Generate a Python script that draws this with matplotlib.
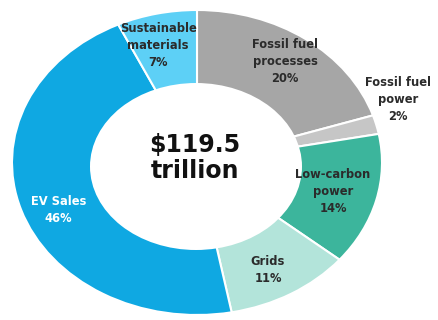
import matplotlib
matplotlib.use("Agg")
import matplotlib.pyplot as plt
from matplotlib.patches import Ellipse

# Fatias do gráfico (sentido horário a partir do topo)
labels = ["Fossil fuel\nprocesses", "Fossil fuel\npower", "Low-carbon\npower",
          "Grids", "EV Sales", "Sustainable\nmaterials"]
shares = [20, 2, 14, 11, 46, 7]
colors = ["#a6a6a6", "#c6c6c6", "#3cb59c", "#b3e4da", "#0fa8e2", "#5dd0f6"]
text_colors = ["#2b2b2b", "#2b2b2b", "#2b2b2b", "#2b2b2b", "white", "#2b2b2b"]
total_label = "$119.5\ntrillion"

# posições dos rótulos (coordenadas do eixo, raio = 1)
label_pos = [(0.476, 0.66), (1.086, 0.41), (0.735, -0.19),
             (0.384, -0.705), (-0.75, -0.31), (-0.21, 0.77)]

# escala em pixels (centro e raios do anel)
cx, cy, rx, ry = 197, 162.5, 185, 152.5

fig = plt.figure(figsize=(4.38, 3.2), dpi=100)
ax = fig.add_axes([0, 0, 1, 1])

ax.pie(shares, colors=colors, startangle=90, counterclock=False, radius=1.0,
       wedgeprops=dict(edgecolor="white", linewidth=1.5))

# furo central (levemente deslocado para baixo como no original)
ax.add_patch(Ellipse((-1 / rx, -4 / ry), 2 * 106 / rx, 2 * 83.5 / ry,
                     facecolor="white", edgecolor="none", zorder=3))

for lab, val, (x, y), tc in zip(labels, shares, label_pos, text_colors):
    ax.text(x, y, f"{lab}\n{val}%", ha="center", va="center", fontsize=8.3,
            fontweight="bold", color=tc, linespacing=1.4, zorder=4)

ax.text(-0.01, 0.03, total_label, ha="center", va="center", fontsize=17,
        fontweight="bold", color="#111111", linespacing=1.15, zorder=4)

ax.set_aspect("auto")
ax.set_xlim(-cx / rx, (438 - cx) / rx)
ax.set_ylim(-(320 - cy) / ry, cy / ry)
ax.axis("off")

fig.savefig("out.png", dpi=100, facecolor="white")
